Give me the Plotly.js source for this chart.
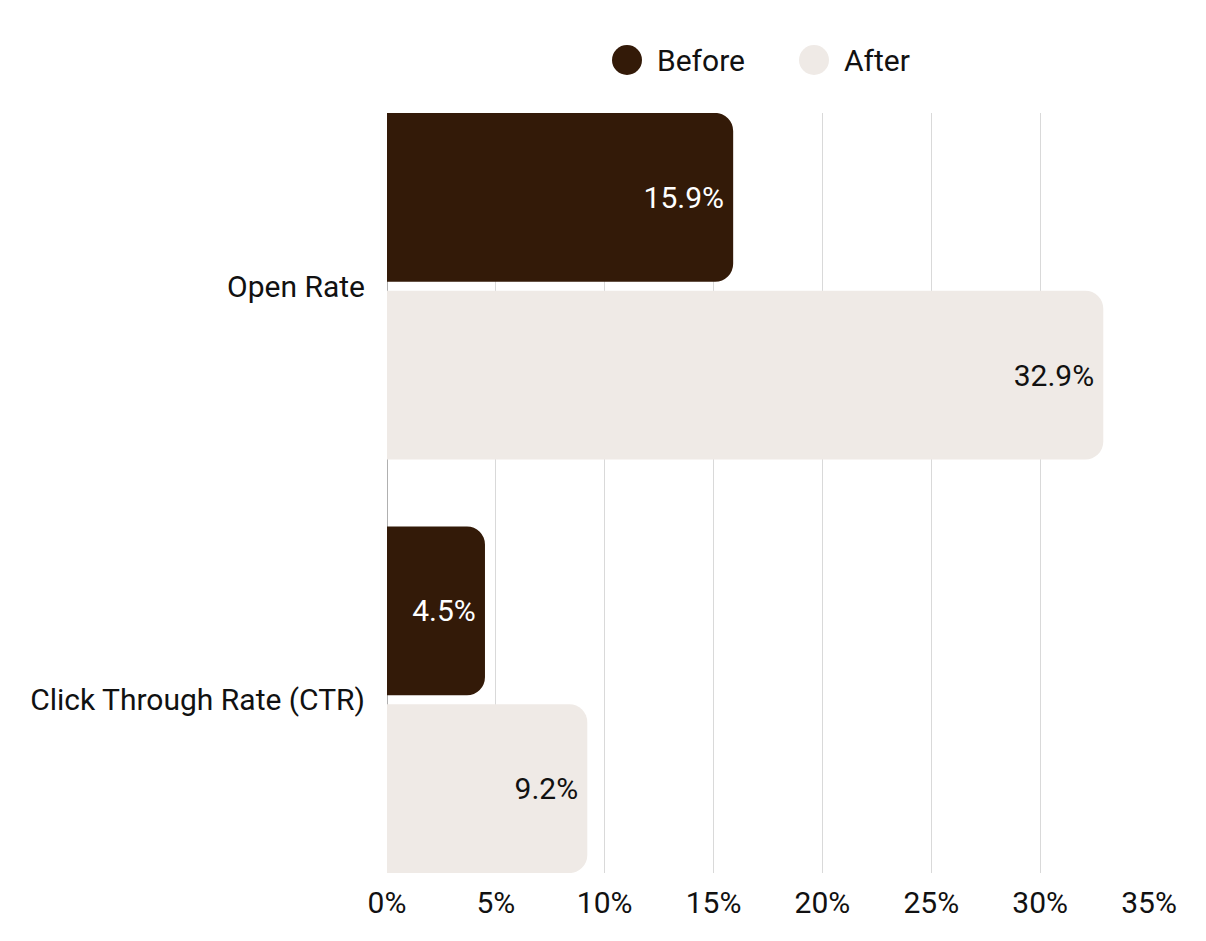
<!DOCTYPE html>
<html>
<head>
<meta charset="utf-8">
<script src="https://cdn.plot.ly/plotly-3.0.1.min.js"></script>
<style>html,body{margin:0;padding:0;background:#fff;}#chart{width:1206px;height:941px;}</style>
</head>
<body>
<div id="chart"></div>
<script>
const categories = ["Open Rate", "Click Through Rate (CTR)"];
const seriesNames = ["Before", "After"];
const beforeValues = [15.9, 4.5];
const afterValues = [32.9, 9.2];
const xTickValues = [0, 5, 10, 15, 20, 25, 30, 35];
const xTickLabels = ["0%", "5%", "10%", "15%", "20%", "25%", "30%", "35%"];

const colBefore = "#331a08";
const colAfter = "#efeae6";
const FONT = "Roboto, 'Open Sans', sans-serif";
const FS = 30;

function fmt(v){ return v.toFixed(1) + "%\u2009"; }

function barPair(name, values, color, textColor, group) {
  return [
    {
      type: "bar", orientation: "h", name: name,
      y: categories, x: values, offsetgroup: group,
      marker: {color: color, cornerradius: 18},
      showlegend: false, hoverinfo: "skip"
    },
    {
      type: "bar", orientation: "h", name: name + " labels",
      y: categories, x: values, offsetgroup: group,
      text: values.map(fmt), textposition: "inside", insidetextanchor: "end",
      textfont: {family: FONT, size: FS, color: textColor},
      marker: {color: "rgba(0,0,0,0)", line: {width: 0}},
      showlegend: false, hoverinfo: "skip"
    }
  ];
}

const traces = [
  ...barPair(seriesNames[0], beforeValues, colBefore, "#ffffff", "g1"),
  ...barPair(seriesNames[1], afterValues, colAfter, "#111111", "g2")
];

const L = 387, R = 1149, T = 113, B = 873;
const W = R - L, H = B - T;
const px = v => (v - L) / W;
const py = v => (B - v) / H;

const legendItems = [
  {name: seriesNames[0], color: colBefore, cx: 627, tx: 655},
  {name: seriesNames[1], color: colAfter, cx: 814, tx: 842}
];
const legendY = 60;

const layout = {
  width: 1206, height: 941,
  paper_bgcolor: "#ffffff", plot_bgcolor: "#ffffff",
  font: {family: FONT, size: FS, color: "#111111"},
  margin: {l: L, r: 1206 - R, t: T, b: 941 - B, pad: 0},
  barmode: "group", bargap: 0.14, bargroupgap: 0.05,
  showlegend: false,
  xaxis: {
    range: [0, 35], tickvals: xTickValues, ticktext: xTickLabels,
    showgrid: true, gridcolor: "#d9d9d9", gridwidth: 1,
    zeroline: true, zerolinecolor: "#b0b0b0", zerolinewidth: 1,
    showline: false, ticks: "outside", ticklen: 3, tickcolor: "rgba(0,0,0,0)",
    tickfont: {family: FONT, size: FS, color: "#111111"}, fixedrange: true
  },
  yaxis: {
    range: [1.419, -0.419], type: "category",
    showgrid: false, zeroline: false, showline: false,
    ticks: "outside", ticklen: 15, tickcolor: "rgba(0,0,0,0)",
    tickfont: {family: FONT, size: FS, color: "#111111"}, fixedrange: true
  },
  shapes: legendItems.map(it => ({
    type: "circle", xref: "paper", yref: "paper",
    xsizemode: "pixel", ysizemode: "pixel",
    xanchor: px(it.cx), yanchor: py(legendY),
    x0: -15, x1: 15, y0: -15, y1: 15,
    fillcolor: it.color, line: {width: 0}
  })),
  annotations: legendItems.map(it => ({
    xref: "paper", yref: "paper", x: px(it.tx), y: py(legendY),
    xanchor: "left", yanchor: "middle", showarrow: false,
    text: it.name, font: {family: FONT, size: FS, color: "#111111"}
  }))
};

Plotly.newPlot("chart", traces, layout, {displayModeBar: false, staticPlot: true});
</script>
</body>
</html>
